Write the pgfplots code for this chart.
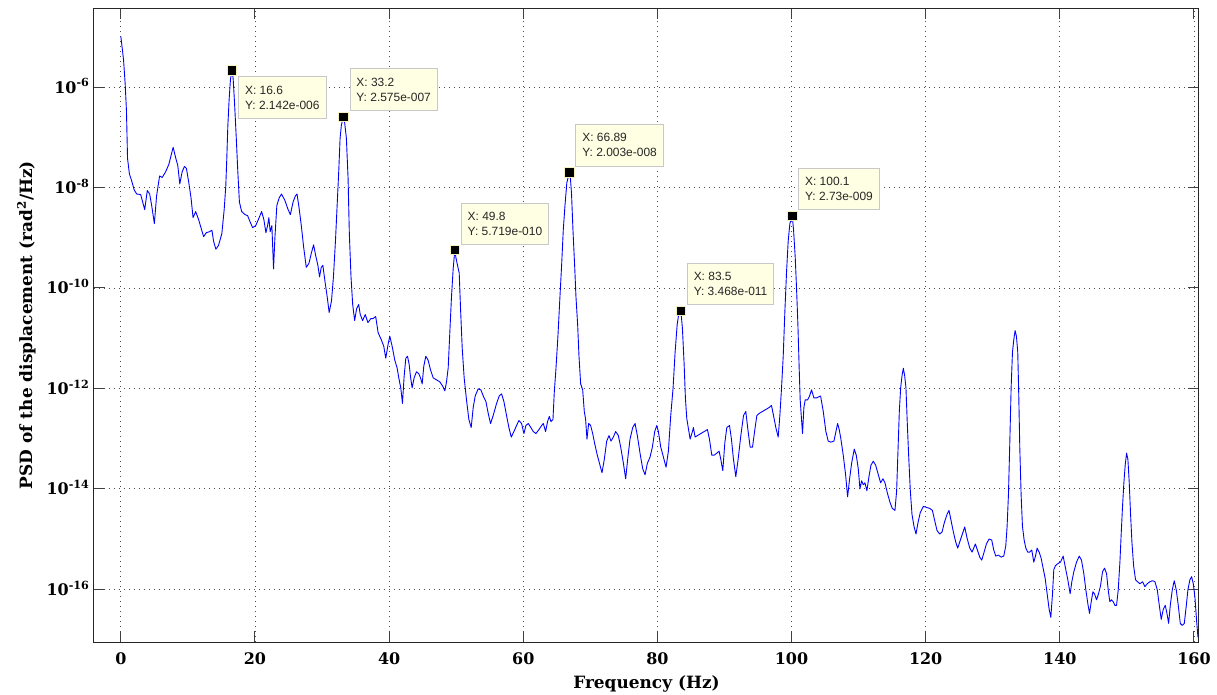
\documentclass[border=0pt]{standalone}
\usepackage{pgfplots}
\pgfplotsset{compat=1.18}
\usepackage{pgfplotstable}
\usepackage{fontspec}
\setmainfont{DejaVu Serif}
\newfontfamily\tipfont{Liberation Sans}
\definecolor{tipbg}{RGB}{255,255,228}
\definecolor{tipframe}{RGB}{200,200,200}
\definecolor{psdblue}{RGB}{0,0,255}
\definecolor{halo}{RGB}{245,240,190}

\pgfplotstableread{
f L
0 -4.99
0.4 -5.45
0.64 -5.92
0.84 -6.47
1.0 -7.42
1.28 -7.73
1.58 -7.85
2.0 -8.05
2.37 -8.13
2.96 -8.14
3.56 -8.44
3.95 -8.06
4.3 -8.13
4.6 -8.36
5.0 -8.72
5.33 -8.17
5.78 -7.77
6.17 -7.80
6.67 -7.69
7.16 -7.54
7.8 -7.20
8.2 -7.42
8.49 -7.56
8.79 -7.93
9.14 -7.69
9.48 -7.58
9.78 -7.62
10.12 -7.89
10.47 -8.21
10.77 -8.60
11.16 -8.48
11.6 -8.64
11.95 -8.80
12.35 -8.98
12.74 -8.90
13.23 -8.88
13.58 -8.85
13.83 -9.07
14.17 -9.23
14.57 -9.15
15.06 -8.92
15.41 -8.44
15.65 -7.97
15.8 -7.42
15.95 -6.79
16.15 -6.24
16.35 -5.84
16.6 -5.669
16.75 -5.84
16.94 -6.28
17.19 -6.95
17.43 -7.65
17.68 -8.29
18.02 -8.48
18.52 -8.54
18.9 -8.56
19.26 -8.68
19.65 -8.80
20.1 -8.76
20.5 -8.64
20.99 -8.48
21.33 -8.64
21.63 -8.90
21.88 -8.76
22.07 -8.60
22.27 -8.88
22.52 -8.76
22.77 -9.62
22.96 -9.03
23.26 -8.36
23.6 -8.21
23.95 -8.13
24.44 -8.25
24.94 -8.44
25.28 -8.54
25.68 -8.29
26.02 -8.17
26.27 -8.13
26.57 -8.40
26.91 -8.76
27.26 -9.19
27.65 -9.59
28.05 -9.51
28.4 -9.31
28.74 -9.14
29.04 -9.35
29.38 -9.55
29.63 -9.78
29.88 -9.59
30.12 -9.55
30.47 -9.90
30.77 -10.18
31.06 -10.49
31.41 -10.26
31.7 -9.78
32.0 -9.07
32.25 -8.36
32.5 -7.65
32.69 -7.02
32.89 -6.75
33.2 -6.589
33.38 -6.72
33.63 -7.02
33.88 -7.81
34.07 -8.92
34.32 -9.78
34.57 -10.33
34.86 -10.65
35.16 -10.41
35.46 -10.33
35.7 -10.53
36.05 -10.65
36.44 -10.53
36.84 -10.69
37.28 -10.61
37.6 -10.61
38.0 -10.57
38.36 -10.89
38.86 -11.04
39.2 -11.16
39.5 -11.40
39.85 -11.12
40.1 -10.96
40.45 -11.16
40.85 -11.44
41.19 -11.59
41.44 -11.79
41.74 -11.99
41.99 -12.30
42.24 -11.76
42.49 -11.40
42.74 -11.36
42.99 -11.52
43.18 -11.76
43.43 -11.99
43.73 -11.79
44.08 -11.67
44.43 -11.71
44.68 -11.79
44.93 -11.91
45.17 -11.56
45.47 -11.36
45.82 -11.44
46.17 -11.63
46.57 -11.79
47.06 -11.83
47.56 -11.87
47.96 -11.95
48.31 -12.05
48.56 -11.87
48.81 -11.59
49.05 -10.89
49.3 -10.18
49.55 -9.62
49.8 -9.243
49.95 -9.39
50.2 -9.55
50.45 -9.70
50.65 -10.41
50.9 -11.20
51.19 -11.79
51.54 -12.23
51.89 -12.62
52.24 -12.78
52.54 -12.38
52.84 -12.15
53.28 -12.01
53.68 -12.03
54.03 -12.15
54.43 -12.26
54.78 -12.50
55.12 -12.70
55.52 -12.54
56.02 -12.30
56.42 -12.15
56.77 -12.11
57.11 -12.26
57.51 -12.54
57.86 -12.78
58.21 -12.97
58.61 -12.86
59.0 -12.74
59.35 -12.64
59.75 -12.70
60.1 -12.90
60.4 -12.74
60.75 -12.70
61.14 -12.78
61.49 -12.86
61.89 -12.90
62.34 -12.82
62.74 -12.74
62.99 -12.70
63.33 -12.86
63.63 -12.66
63.88 -12.56
64.13 -12.66
64.43 -12.62
64.63 -12.07
64.88 -11.60
65.17 -10.96
65.47 -10.18
65.72 -9.55
65.97 -8.84
66.22 -8.36
66.5 -7.90
66.89 -7.698
67.05 -7.85
67.2 -8.13
67.41 -8.84
67.66 -9.55
67.86 -10.18
68.11 -10.73
68.31 -11.36
68.56 -11.91
68.86 -12.03
69.1 -12.46
69.3 -12.62
69.5 -13.01
69.75 -12.70
70.05 -12.74
70.35 -12.90
70.7 -13.13
71.04 -13.33
71.44 -13.53
71.74 -13.68
72.09 -13.41
72.44 -13.05
72.79 -12.94
73.08 -13.05
73.43 -12.97
73.78 -12.86
74.18 -12.94
74.53 -13.17
74.93 -13.49
75.27 -13.80
75.57 -13.41
75.92 -13.01
76.32 -12.78
76.67 -12.70
77.01 -12.94
77.41 -13.29
77.81 -13.60
78.16 -13.72
78.51 -13.49
78.9 -13.37
79.25 -13.17
79.6 -12.86
79.9 -12.74
80.15 -12.86
80.5 -13.17
80.9 -13.37
81.29 -13.57
81.64 -13.25
81.99 -12.54
82.34 -11.99
82.64 -11.28
82.95 -10.73
83.2 -10.50
83.5 -10.46
83.73 -10.80
83.98 -11.50
84.18 -12.20
84.38 -12.60
84.6 -12.78
84.88 -13.01
85.22 -12.86
85.37 -12.78
85.62 -12.97
85.97 -12.94
86.47 -12.90
86.97 -12.86
87.46 -12.82
87.76 -13.01
88.11 -13.33
88.46 -13.33
88.86 -13.29
89.2 -13.25
89.45 -13.41
89.75 -13.64
90.05 -13.09
90.35 -12.78
90.75 -12.74
91.04 -13.01
91.34 -13.41
91.69 -13.76
92.04 -13.41
92.44 -12.94
92.84 -12.54
93.18 -12.46
93.53 -12.86
93.83 -13.17
94.18 -13.17
94.53 -12.82
94.83 -12.54
95.17 -12.50
95.67 -12.46
96.17 -12.42
96.67 -12.38
97.01 -12.34
97.31 -12.54
97.66 -12.78
98.01 -12.97
98.26 -12.54
98.51 -11.99
98.76 -11.36
99.0 -10.49
99.25 -9.70
99.5 -9.07
99.75 -8.72
100.1 -8.564
100.3 -8.84
100.55 -9.39
100.75 -10.02
100.95 -10.73
101.14 -11.60
101.29 -12.23
101.49 -12.62
101.64 -12.90
101.84 -12.38
102.04 -12.23
102.39 -12.23
102.69 -12.15
102.99 -12.03
103.33 -12.19
103.73 -12.19
104.33 -12.15
104.73 -12.46
105.12 -12.86
105.47 -13.05
105.87 -13.07
106.32 -13.05
106.62 -12.86
106.87 -12.70
107.11 -12.82
107.36 -13.01
107.71 -13.33
108.06 -13.72
108.36 -14.16
108.66 -13.80
108.96 -13.49
109.35 -13.21
109.65 -13.33
109.95 -13.60
110.2 -14.00
110.45 -13.84
110.7 -13.92
110.95 -13.88
111.24 -14.04
111.54 -13.76
111.84 -13.53
112.19 -13.45
112.54 -13.53
112.94 -13.72
113.28 -13.88
113.63 -13.80
113.93 -13.88
114.28 -14.08
114.68 -14.27
115.02 -14.39
115.42 -14.43
115.67 -14.04
115.87 -13.25
116.07 -12.46
116.27 -11.99
116.47 -11.75
116.67 -11.60
116.87 -11.75
117.06 -11.99
117.26 -12.70
117.46 -13.33
117.71 -14.04
117.96 -14.51
118.26 -14.75
118.56 -14.90
118.86 -14.67
119.2 -14.47
119.65 -14.35
120.1 -14.37
120.6 -14.39
121.0 -14.43
121.34 -14.63
121.69 -14.83
122.09 -14.90
122.44 -14.86
122.79 -14.67
123.18 -14.51
123.48 -14.43
123.78 -14.63
124.13 -14.86
124.48 -15.06
124.78 -15.18
125.07 -15.06
125.47 -14.90
125.82 -14.76
126.17 -14.98
126.57 -15.18
126.92 -15.26
127.16 -15.18
127.41 -15.10
127.71 -15.22
128.06 -15.36
128.36 -15.42
128.71 -15.26
129.05 -15.10
129.45 -15.00
129.85 -15.02
130.15 -15.22
130.45 -15.34
130.85 -15.32
131.24 -15.36
131.64 -15.34
131.94 -15.14
132.14 -14.75
132.34 -14.12
132.54 -13.09
132.74 -11.99
132.94 -11.28
133.13 -11.04
133.33 -10.85
133.53 -10.96
133.73 -11.28
133.88 -12.15
134.03 -13.17
134.23 -14.12
134.43 -14.75
134.68 -15.02
134.93 -15.18
135.22 -15.26
135.52 -15.26
135.82 -15.22
136.12 -15.46
136.37 -15.34
136.62 -15.18
136.92 -15.26
137.21 -15.38
137.51 -15.58
137.81 -15.78
138.11 -16.09
138.41 -16.40
138.66 -16.56
138.91 -16.09
139.1 -15.61
139.35 -15.53
139.7 -15.49
140.1 -15.46
140.5 -15.34
140.85 -15.58
141.19 -15.81
141.54 -16.09
141.79 -15.85
142.09 -15.65
142.49 -15.46
142.89 -15.34
143.23 -15.42
143.58 -15.69
143.88 -16.01
144.18 -16.29
144.43 -16.48
144.68 -16.25
144.93 -16.05
145.17 -16.09
145.47 -16.21
145.77 -16.09
146.07 -15.93
146.37 -15.65
146.67 -15.58
146.97 -15.69
147.21 -16.01
147.46 -16.25
147.71 -16.21
147.96 -16.25
148.21 -16.32
148.46 -16.32
148.71 -16.01
148.96 -15.46
149.15 -14.90
149.35 -14.35
149.55 -13.88
149.75 -13.53
149.95 -13.29
150.15 -13.41
150.35 -13.88
150.55 -14.51
150.75 -15.06
151.0 -15.53
151.29 -15.81
151.59 -15.85
151.94 -15.89
152.34 -15.85
152.69 -15.95
153.03 -15.89
153.43 -15.85
153.83 -15.83
154.18 -15.85
154.53 -16.01
154.83 -16.32
155.12 -16.60
155.42 -16.40
155.72 -16.32
155.97 -16.48
156.22 -16.68
156.47 -16.32
156.77 -16.01
157.06 -15.83
157.36 -16.01
157.66 -16.32
157.96 -16.68
158.26 -16.72
158.56 -16.68
158.86 -16.32
159.1 -16.01
159.4 -15.81
159.65 -15.75
159.9 -15.89
160.15 -16.17
160.4 -16.64
160.6 -16.96
}\psd

\pgfplotstableread{
f y
16.6 2.142e-6
33.2 2.575e-7
49.8 5.719e-10
66.89 2.003e-8
83.5 3.468e-11
100.1 2.73e-9
}\tips

\begin{document}
\begin{tikzpicture}
\useasboundingbox (-94bp,-53bp) rectangle (1123bp,642bp);
\begin{axis}[
  at={(0,0)}, anchor=south west,
  scale only axis, width=1105bp, height=634bp,
  xmin=-4, xmax=160.75,
  ymode=log, ymin=8.9e-18, ymax=3.75e-5,
  xtick={0,20,...,160},
  ytick={1e-16,1e-14,1e-12,1e-10,1e-8,1e-6},
  yticklabels={10\textsuperscript{-16},10\textsuperscript{-14},10\textsuperscript{-12},10\textsuperscript{-10},10\textsuperscript{-8},10\textsuperscript{-6}},
  minor ytick={},
  /pgf/number format/assume math mode=true,
  grid=major,
  major grid style={black!70, line width=0.8bp, dash pattern=on 1bp off 4bp},
  tick align=inside,
  major tick length=11bp,
  axis line style={black!85, line width=1bp},
  every tick/.style={black!75, line width=1bp},
  tick label style={font=\fontsize{16}{19}\selectfont\bfseries},
  xticklabel style={anchor=base, yshift=-22bp},
  yticklabel style={anchor=base east, yshift=-6bp, xshift=-1bp},
  xlabel={Frequency (Hz)},
  ylabel={PSD of the displacement (rad\textsuperscript{2}/Hz)},
  every axis x label/.style={at={(axis description cs:0.5,-0.0741)}, anchor=base, font=\fontsize{17}{20}\selectfont\bfseries},
  every axis y label/.style={at={(axis description cs:-0.0561,0.5)}, rotate=90, anchor=base, font=\fontsize{17}{20}\selectfont\bfseries},
  clip=true,
]
\addplot[psdblue, line width=0.9bp, line join=round] table[x=f, y expr={10^(\thisrow{L})}] {\psd};
\addplot[only marks, mark=square*, mark size=4.7bp, mark options={fill=black, draw=halo, line width=0.8bp}] table[x=f, y=y] {\tips};
\begin{scope}[every node/.style={draw=tipframe, fill=tipbg, line width=0.8bp, align=left, inner xsep=6.5bp, inner ysep=9bp, font={\tipfont\fontsize{12}{15}\selectfont}, text=black!85}]
\node[anchor=north west, xshift=6bp, yshift=-6bp] at (axis cs:16.6,2.142e-6) {X: 16.6\\Y: 2.142e-006};
\node[anchor=south west, xshift=6bp, yshift=6bp] at (axis cs:33.2,2.575e-7) {X: 33.2\\Y: 2.575e-007};
\node[anchor=south west, xshift=6bp, yshift=5bp] at (axis cs:49.8,5.719e-10) {X: 49.8\\Y: 5.719e-010};
\node[anchor=south west, xshift=6bp, yshift=6bp] at (axis cs:66.89,2.003e-8) {X: 66.89\\Y: 2.003e-008};
\node[anchor=south west, xshift=6bp, yshift=6bp] at (axis cs:83.5,3.468e-11) {X: 83.5\\Y: 3.468e-011};
\node[anchor=south west, xshift=6bp, yshift=6bp] at (axis cs:100.1,2.73e-9) {X: 100.1\\Y: 2.73e-009};
\end{scope}
\end{axis}
\end{tikzpicture}
\end{document}
